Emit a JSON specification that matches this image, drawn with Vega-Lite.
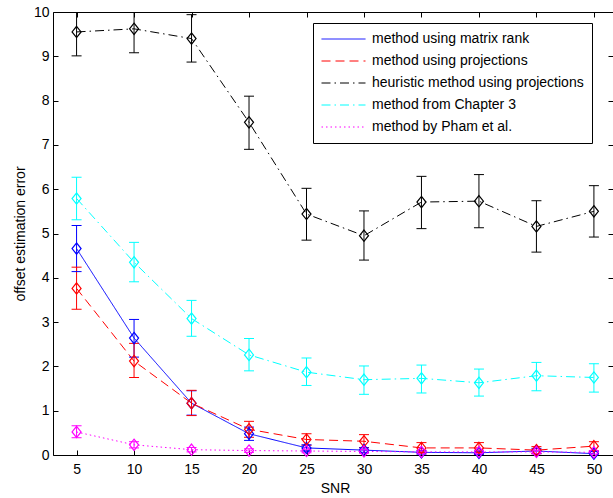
{
  "$schema": "https://vega.github.io/schema/vega-lite/v6.json",
  "autosize": {"type": "none"},
  "width": 560,
  "height": 443,
  "padding": {"left": 53, "top": 12, "right": 0, "bottom": 43},
  "background": "white",
  "config": {
    "view": {"stroke": null},
    "font": "Liberation Sans",
    "axis": {
      "grid": false,
      "domainColor": "black",
      "domainWidth": 1,
      "tickColor": "black",
      "tickSize": -5,
      "tickWidth": 1,
      "labelColor": "black",
      "labelFont": "Liberation Sans",
      "labelFontSize": 14,
      "titleFont": "Liberation Sans",
      "titleFontSize": 14,
      "titleFontWeight": "normal",
      "titleColor": "black"
    },
    "legend": {
      "labelFont": "Liberation Sans",
      "labelFontSize": 14,
      "labelColor": "black",
      "labelLimit": 0
    }
  },
  "data": {
    "values": [
      {"snr": 5, "method": "method using matrix rank", "err": 4.66, "lo": 4.14, "hi": 5.18},
      {"snr": 10, "method": "method using matrix rank", "err": 2.64, "lo": 2.21, "hi": 3.06},
      {"snr": 15, "method": "method using matrix rank", "err": 1.17, "lo": 0.90, "hi": 1.45},
      {"snr": 20, "method": "method using matrix rank", "err": 0.48, "lo": 0.33, "hi": 0.63},
      {"snr": 25, "method": "method using matrix rank", "err": 0.16, "lo": 0.09, "hi": 0.23},
      {"snr": 30, "method": "method using matrix rank", "err": 0.11, "lo": 0.06, "hi": 0.16},
      {"snr": 35, "method": "method using matrix rank", "err": 0.06, "lo": 0.02, "hi": 0.10},
      {"snr": 40, "method": "method using matrix rank", "err": 0.05, "lo": 0.01, "hi": 0.09},
      {"snr": 45, "method": "method using matrix rank", "err": 0.09, "lo": 0.03, "hi": 0.15},
      {"snr": 50, "method": "method using matrix rank", "err": 0.03, "lo": -0.02, "hi": 0.08},

      {"snr": 5, "method": "method using projections", "err": 3.76, "lo": 3.29, "hi": 4.24},
      {"snr": 10, "method": "method using projections", "err": 2.12, "lo": 1.75, "hi": 2.52},
      {"snr": 15, "method": "method using projections", "err": 1.17, "lo": 0.89, "hi": 1.46},
      {"snr": 20, "method": "method using projections", "err": 0.58, "lo": 0.40, "hi": 0.76},
      {"snr": 25, "method": "method using projections", "err": 0.35, "lo": 0.22, "hi": 0.48},
      {"snr": 30, "method": "method using projections", "err": 0.31, "lo": 0.17, "hi": 0.46},
      {"snr": 35, "method": "method using projections", "err": 0.16, "lo": 0.05, "hi": 0.28},
      {"snr": 40, "method": "method using projections", "err": 0.16, "lo": 0.05, "hi": 0.28},
      {"snr": 45, "method": "method using projections", "err": 0.11, "lo": 0.03, "hi": 0.19},
      {"snr": 50, "method": "method using projections", "err": 0.20, "lo": 0.10, "hi": 0.30},

      {"snr": 5, "method": "heuristic method using projections", "err": 9.55, "lo": 9.01, "hi": 10.09},
      {"snr": 10, "method": "heuristic method using projections", "err": 9.62, "lo": 9.08, "hi": 10.16},
      {"snr": 15, "method": "heuristic method using projections", "err": 9.40, "lo": 8.87, "hi": 9.94},
      {"snr": 20, "method": "heuristic method using projections", "err": 7.51, "lo": 6.90, "hi": 8.10},
      {"snr": 25, "method": "heuristic method using projections", "err": 5.44, "lo": 4.85, "hi": 6.02},
      {"snr": 30, "method": "heuristic method using projections", "err": 4.95, "lo": 4.40, "hi": 5.51},
      {"snr": 35, "method": "heuristic method using projections", "err": 5.71, "lo": 5.11, "hi": 6.29},
      {"snr": 40, "method": "heuristic method using projections", "err": 5.73, "lo": 5.13, "hi": 6.33},
      {"snr": 45, "method": "heuristic method using projections", "err": 5.16, "lo": 4.58, "hi": 5.74},
      {"snr": 50, "method": "heuristic method using projections", "err": 5.50, "lo": 4.92, "hi": 6.08},

      {"snr": 5, "method": "method from Chapter 3", "err": 5.79, "lo": 5.31, "hi": 6.27},
      {"snr": 10, "method": "method from Chapter 3", "err": 4.35, "lo": 3.91, "hi": 4.80},
      {"snr": 15, "method": "method from Chapter 3", "err": 3.08, "lo": 2.68, "hi": 3.49},
      {"snr": 20, "method": "method from Chapter 3", "err": 2.26, "lo": 1.90, "hi": 2.63},
      {"snr": 25, "method": "method from Chapter 3", "err": 1.87, "lo": 1.57, "hi": 2.19},
      {"snr": 30, "method": "method from Chapter 3", "err": 1.70, "lo": 1.37, "hi": 2.01},
      {"snr": 35, "method": "method from Chapter 3", "err": 1.73, "lo": 1.40, "hi": 2.03},
      {"snr": 40, "method": "method from Chapter 3", "err": 1.63, "lo": 1.33, "hi": 1.94},
      {"snr": 45, "method": "method from Chapter 3", "err": 1.79, "lo": 1.45, "hi": 2.09},
      {"snr": 50, "method": "method from Chapter 3", "err": 1.75, "lo": 1.42, "hi": 2.06},

      {"snr": 5, "method": "method by Pham et al.", "err": 0.52, "lo": 0.39, "hi": 0.66},
      {"snr": 10, "method": "method by Pham et al.", "err": 0.23, "lo": 0.16, "hi": 0.30},
      {"snr": 15, "method": "method by Pham et al.", "err": 0.12, "lo": 0.07, "hi": 0.17},
      {"snr": 20, "method": "method by Pham et al.", "err": 0.10, "lo": 0.06, "hi": 0.14},
      {"snr": 25, "method": "method by Pham et al.", "err": 0.09, "lo": 0.05, "hi": 0.13},
      {"snr": 30, "method": "method by Pham et al.", "err": 0.08, "lo": 0.04, "hi": 0.12},
      {"snr": 35, "method": "method by Pham et al.", "err": 0.07, "lo": 0.03, "hi": 0.11},
      {"snr": 40, "method": "method by Pham et al.", "err": 0.07, "lo": 0.03, "hi": 0.11},
      {"snr": 45, "method": "method by Pham et al.", "err": 0.07, "lo": 0.03, "hi": 0.11},
      {"snr": 50, "method": "method by Pham et al.", "err": 0.06, "lo": 0.02, "hi": 0.10}
    ]
  },
  "resolve": {"axis": {"x": "independent", "y": "independent"}},
  "layer": [
    {
      "mark": {"type": "line", "strokeWidth": 1, "clip": true},
      "encoding": {
        "x": {
          "field": "snr", "type": "quantitative",
          "scale": {"domain": [2.95, 51.66], "nice": false, "zero": false},
          "axis": {
            "orient": "bottom", "title": "SNR",
            "values": [5, 10, 15, 20, 25, 30, 35, 40, 45, 50],
            "labelBaseline": "alphabetic", "labelPadding": 23,
            "titleX": 282, "titleY": 37, "titleBaseline": "alphabetic"
          }
        },
        "y": {
          "field": "err", "type": "quantitative",
          "scale": {"domain": [0, 10], "nice": false, "zero": false},
          "axis": {
            "orient": "left", "title": "offset estimation error",
            "values": [0, 1, 2, 3, 4, 5, 6, 7, 8, 9, 10],
            "labelPadding": 9,
            "titleX": -29, "titleY": 221.5, "titleBaseline": "alphabetic", "titleAngle": 270
          }
        },
        "color": {
          "field": "method", "type": "nominal",
          "scale": {
            "domain": ["method using matrix rank", "method using projections", "heuristic method using projections", "method from Chapter 3", "method by Pham et al."],
            "range": ["#0000ff", "#ff0000", "#000000", "#00ffff", "#ff00ff"]
          },
          "legend": {
            "title": null, "orient": "none", "legendX": 260, "legendY": 11,
            "padding": 8, "strokeColor": "black", "fillColor": "white", "cornerRadius": 0,
            "symbolType": "stroke", "symbolSize": 1936, "symbolStrokeWidth": 1,
            "clipHeight": 16, "rowPadding": 6, "labelOffset": 6, "labelLimit": 0
          }
        },
        "strokeDash": {
          "field": "method", "type": "nominal",
          "scale": {
            "domain": ["method using matrix rank", "method using projections", "heuristic method using projections", "method from Chapter 3", "method by Pham et al."],
            "range": [[1, 0], [9, 5], [9, 4, 1.5, 4], [9, 4, 1.5, 4], [1.5, 3]]
          },
          "legend": {
            "title": null, "orient": "none", "legendX": 260, "legendY": 11,
            "padding": 8, "strokeColor": "black", "fillColor": "white", "cornerRadius": 0,
            "symbolType": "stroke", "symbolSize": 1936, "symbolStrokeWidth": 1,
            "clipHeight": 16, "rowPadding": 6, "labelOffset": 6, "labelLimit": 0
          }
        }
      }
    },
    {
      "mark": {"type": "rule", "strokeWidth": 1, "clip": true},
      "encoding": {
        "x": {
          "field": "snr", "type": "quantitative",
          "axis": {"orient": "top", "labels": false, "title": null, "values": [5, 10, 15, 20, 25, 30, 35, 40, 45, 50]}
        },
        "y": {
          "field": "lo", "type": "quantitative",
          "axis": {"orient": "right", "labels": false, "title": null, "domain": false, "values": [0, 1, 2, 3, 4, 5, 6, 7, 8, 9, 10]}
        },
        "y2": {"field": "hi"},
        "color": {"field": "method", "type": "nominal", "legend": null}
      }
    },
    {
      "mark": {"type": "tick", "orient": "horizontal", "size": 10, "thickness": 1, "opacity": 1, "clip": true},
      "encoding": {
        "x": {"field": "snr", "type": "quantitative", "axis": null},
        "y": {"field": "lo", "type": "quantitative", "axis": null},
        "color": {"field": "method", "type": "nominal", "legend": null}
      }
    },
    {
      "mark": {"type": "tick", "orient": "horizontal", "size": 10, "thickness": 1, "opacity": 1, "clip": true},
      "encoding": {
        "x": {"field": "snr", "type": "quantitative", "axis": null},
        "y": {"field": "hi", "type": "quantitative", "axis": null},
        "color": {"field": "method", "type": "nominal", "legend": null}
      }
    },
    {
      "mark": {"type": "point", "shape": "M0,-1L0.8,0L0,1L-0.8,0Z", "size": 127, "filled": false, "strokeWidth": 1.2, "opacity": 1},
      "encoding": {
        "x": {"field": "snr", "type": "quantitative", "axis": null},
        "y": {"field": "err", "type": "quantitative", "axis": null},
        "color": {"field": "method", "type": "nominal", "legend": null}
      }
    }
  ]
}
